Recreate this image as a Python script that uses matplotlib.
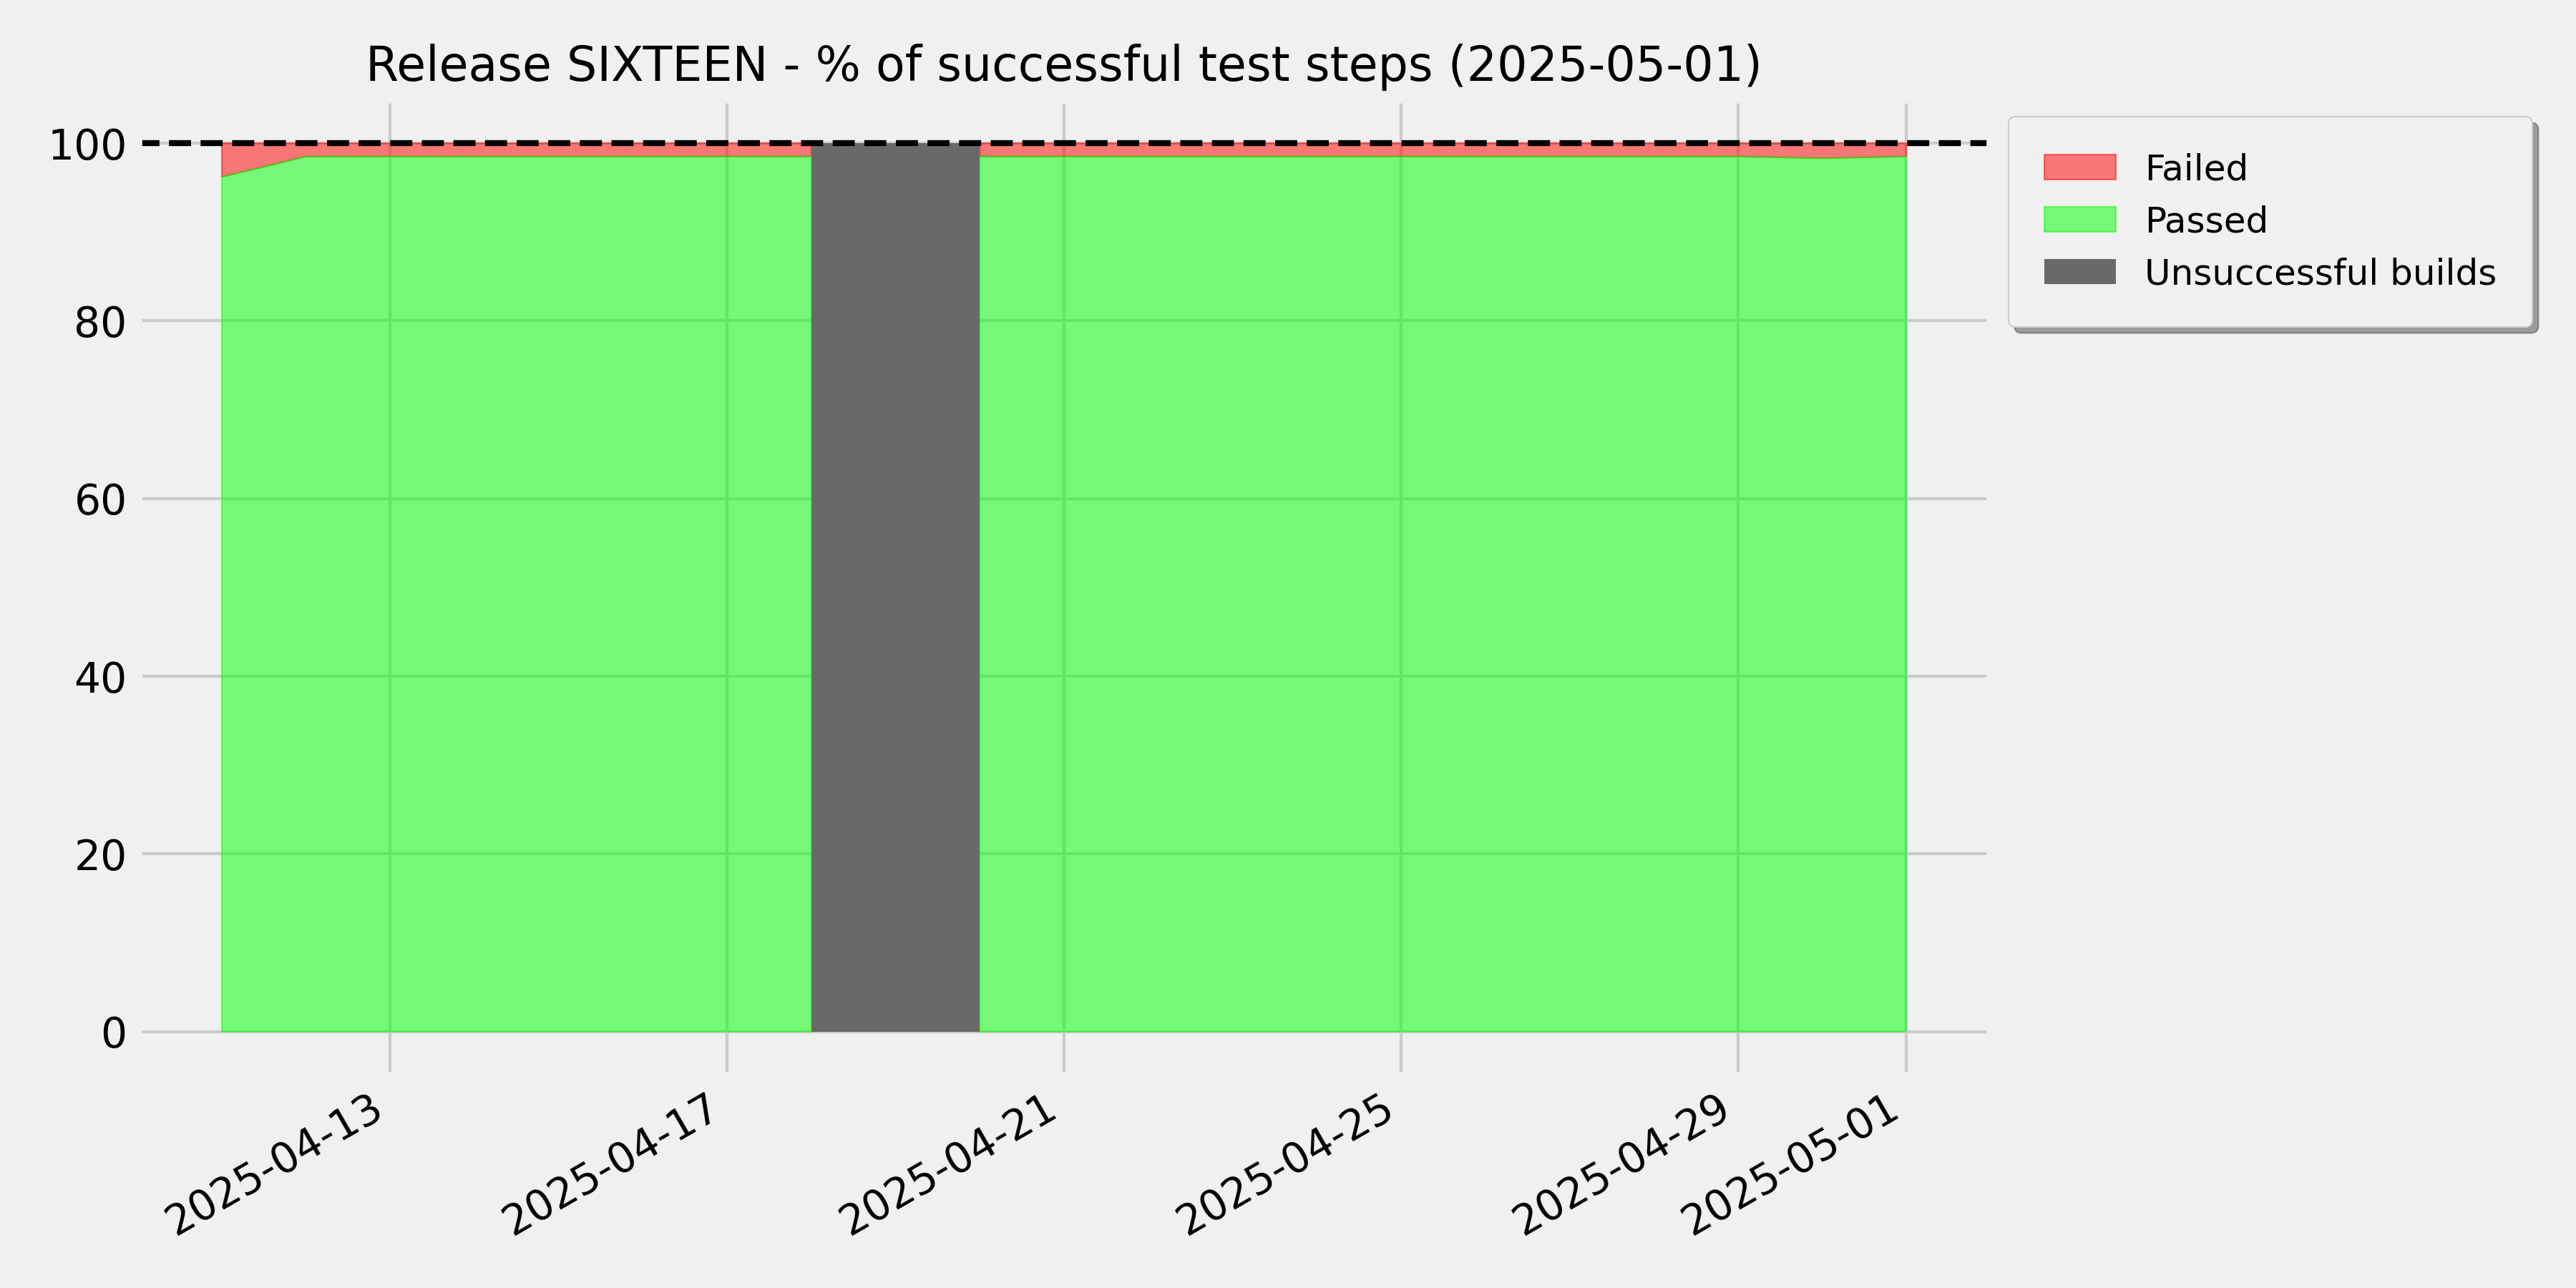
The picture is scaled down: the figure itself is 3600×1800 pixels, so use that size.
import numpy as np
import matplotlib
matplotlib.use('Agg')
import matplotlib.pyplot as plt
import matplotlib.dates as mdates
import pandas as pd

plt.style.use('fivethirtyeight')

# ---- data ----
dates = pd.date_range('2025-04-11', '2025-05-01', freq='D')
passed = np.array([96.2, 98.5, 98.5, 98.5, 98.5, 98.5, 98.5, 98.5, np.nan,
                   98.5, 98.5, 98.5, 98.5, 98.5, 98.5, 98.5, 98.5, 98.5, 98.5,
                   98.3, 98.5])
failed = 100 - passed
unsuccessful_start = pd.Timestamp('2025-04-18')
unsuccessful_end = pd.Timestamp('2025-04-20')
tick_dates = pd.to_datetime(['2025-04-13', '2025-04-17', '2025-04-21',
                             '2025-04-25', '2025-04-29', '2025-05-01'])
title = 'Release SIXTEEN - % of successful test steps (2025-05-01)'

fig = plt.figure(figsize=(12, 6), dpi=300)
ax = fig.add_axes([0.0534, 0.1646, 0.7727 - 0.0534, 0.9233 - 0.1646])

ax.fill_between(dates, passed, passed + failed, color='red', alpha=0.5, label='Failed')
ax.fill_between(dates, 0, passed, color='lime', alpha=0.5, label='Passed')
ax.fill_between([unsuccessful_start, unsuccessful_end], 0, 100, color='dimgray',
                linewidth=0, label='Unsuccessful builds')
ax.axhline(100, color='black', linestyle='--', linewidth=2)

ax.set_xticks(tick_dates)
ax.xaxis.set_major_formatter(mdates.DateFormatter('%Y-%m-%d'))
for lbl in ax.get_xticklabels():
    lbl.set_rotation(30)
    lbl.set_ha('right')
ax.set_yticks([0, 20, 40, 60, 80, 100])

ax.set_title(title, fontsize=16)
ax.legend(loc='upper left', bbox_to_anchor=(1, 1), shadow=True, fontsize=12,
          borderpad=1.0)

fig.savefig('out.png', dpi=300)
